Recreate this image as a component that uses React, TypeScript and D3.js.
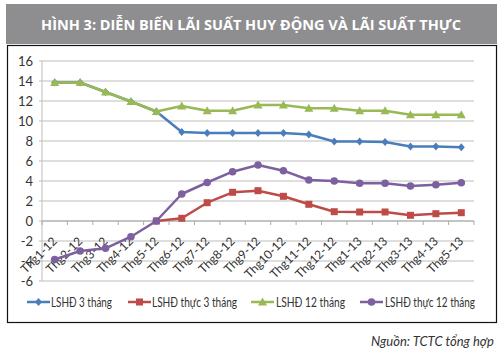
import React from "react";
import { scaleBand, scaleLinear, line } from "d3";

const months = [
  "Thg1-12", "Thg2-12", "Thg3-12", "Thg4-12", "Thg5-12", "Thg6-12", "Thg7-12", "Thg8-12", "Thg9-12",
  "Thg10-12", "Thg11-12", "Thg12-12", "Thg1-13", "Thg2-13", "Thg3-13", "Thg4-13", "Thg5-13",
];
const lshd3 = [13.85, 13.85, 12.9, 11.95, 10.95, 8.9, 8.8, 8.8, 8.8, 8.8, 8.65, 7.95, 7.95, 7.9, 7.45, 7.45, 7.37];
const lshdThuc3 = [null, null, null, null, 0, 0.27, 1.83, 2.87, 3.03, 2.47, 1.67, 0.93, 0.9, 0.9, 0.57, 0.73, 0.83];
const lshd12 = [13.85, 13.85, 12.9, 11.95, 10.95, 11.5, 11.03, 11.03, 11.6, 11.6, 11.27, 11.27, 11.03, 11.03, 10.63, 10.63, 10.63];
const lshdThuc12 = [-3.85, -3.0, -2.73, -1.57, 0, 2.7, 3.85, 4.93, 5.6, 5.03, 4.1, 4.0, 3.77, 3.77, 3.5, 3.63, 3.83];
const yTicks = [16, 14, 12, 10, 8, 6, 4, 2, 0, -2, -4, -6];

const series = [
  { name: "LSHĐ 3 tháng", values: lshd3, color: "#4a7ebb", marker: "diamond" },
  { name: "LSHĐ thực 3 tháng", values: lshdThuc3, color: "#be4b48", marker: "square" },
  { name: "LSHĐ 12 tháng", values: lshd12, color: "#98b954", marker: "triangle" },
  { name: "LSHĐ thực 12 tháng", values: lshdThuc12, color: "#7d60a0", marker: "circle" },
];

const font = "Lato, 'Liberation Sans', sans-serif";

function Marker({ type, x, y, color }: { type: string; x: number; y: number; color: string }) {
  if (type === "diamond") {
    return <path d={`M${x},${y - 4}L${x + 3.5},${y}L${x},${y + 4}L${x - 3.5},${y}Z`} fill={color} />;
  }
  if (type === "square") {
    return <rect x={x - 3.5} y={y - 3.5} width={7} height={7} fill={color} />;
  }
  if (type === "triangle") {
    return <path d={`M${x},${y - 4.5}L${x + 4.5},${y + 3.5}L${x - 4.5},${y + 3.5}Z`} fill={color} />;
  }
  return <circle cx={x} cy={y} r={3.8} fill={color} />;
}

export default function App() {
  const width = 503;
  const height = 354;
  const plot = { left: 42, right: 474, top: 61, bottom: 281 };

  const x = scaleBand<string>().domain(months).range([plot.left, plot.right]);
  const y = scaleLinear().domain([-6, 16]).range([plot.bottom, plot.top]);
  const cx = (m: string) => (x(m) ?? 0) + x.bandwidth() / 2;

  const lineGen = line<number | null>()
    .defined((d) => d !== null)
    .x((d, i) => cx(months[i]))
    .y((d) => y(d as number));

  // legend placement (line start, text start, text width)
  const legendItems = [
    { x: 27, tx: 51, w: 61 },
    { x: 128, tx: 152, w: 85 },
    { x: 251, tx: 276, w: 69 },
    { x: 360, tx: 385, w: 90 },
  ];

  return (
    <svg width={width} height={height} style={{ position: "absolute", left: 0, top: 0 }}>
      <rect width={width} height={height} fill="#fff" />
      <rect x={6} y={4} width={491} height={40} fill="#8e8e90" />
      <text x={251} y={30} textAnchor="middle" fill="#fff" fontFamily="'Open Sans', sans-serif" fontWeight="bold" fontSize={14.5}>
        HÌNH 3: DIỄN BIẾN LÃI SUẤT HUY ĐỘNG VÀ LÃI SUẤT THỰC
      </text>
      <rect x={7.5} y={45.5} width={489} height={277} fill="none" stroke="#111" strokeWidth={1.2} />

      {yTicks.map((t) => (
        <g key={t}>
          <line x1={plot.left - 3} x2={plot.right} y1={y(t)} y2={y(t)} stroke="#bdbdbd" strokeWidth={1} />
          <text x={33} y={y(t) + 4.5} textAnchor="end" fontFamily={font} fontSize={13} fill="#333">
            {t}
          </text>
        </g>
      ))}
      <line x1={plot.left} x2={plot.left} y1={plot.top} y2={plot.bottom} stroke="#bdbdbd" />
      <line x1={plot.left} x2={plot.right} y1={y(0)} y2={y(0)} stroke="#aaa" strokeWidth={1} />
      {months.map((m) => (
        <line key={"t" + m} x1={x(m)} x2={x(m)} y1={y(0)} y2={y(0) + 4} stroke="#aaa" />
      ))}
      <line x1={plot.right} x2={plot.right} y1={y(0)} y2={y(0) + 4} stroke="#aaa" />
      {months.map((m) => (
        <text
          key={"l" + m}
          transform={`translate(${cx(m) + 3},${y(0) + 21}) rotate(-45)`}
          textAnchor="end"
          fontFamily={font}
          fontSize={12}
          fill="#333"
        >
          {m}
        </text>
      ))}

      {series.map((s) => (
        <g key={s.name}>
          <path d={lineGen(s.values) ?? ""} fill="none" stroke={s.color} strokeWidth={2.5} strokeLinejoin="round" />
          {s.values.map((v, i) =>
            v === null ? null : <Marker key={i} type={s.marker} x={cx(months[i])} y={y(v)} color={s.color} />
          )}
        </g>
      ))}

      {series.map((s, i) => (
        <g key={"lg" + s.name}>
          <line x1={legendItems[i].x} x2={legendItems[i].x + 23} y1={302} y2={302} stroke={s.color} strokeWidth={2.5} />
          <Marker type={s.marker} x={legendItems[i].x + 11.5} y={302} color={s.color} />
          <text
            x={legendItems[i].tx}
            y={306.5}
            fontFamily={font}
            fontSize={12.5}
            fill="#333"
            textLength={legendItems[i].w}
            lengthAdjust="spacingAndGlyphs"
          >
            {s.name}
          </text>
        </g>
      ))}

      <text x={494} y={346} textAnchor="end" fontFamily={font} fontStyle="italic" fontSize={13} fill="#333">
        Nguồn: TCTC tổng hợp
      </text>
    </svg>
  );
}
